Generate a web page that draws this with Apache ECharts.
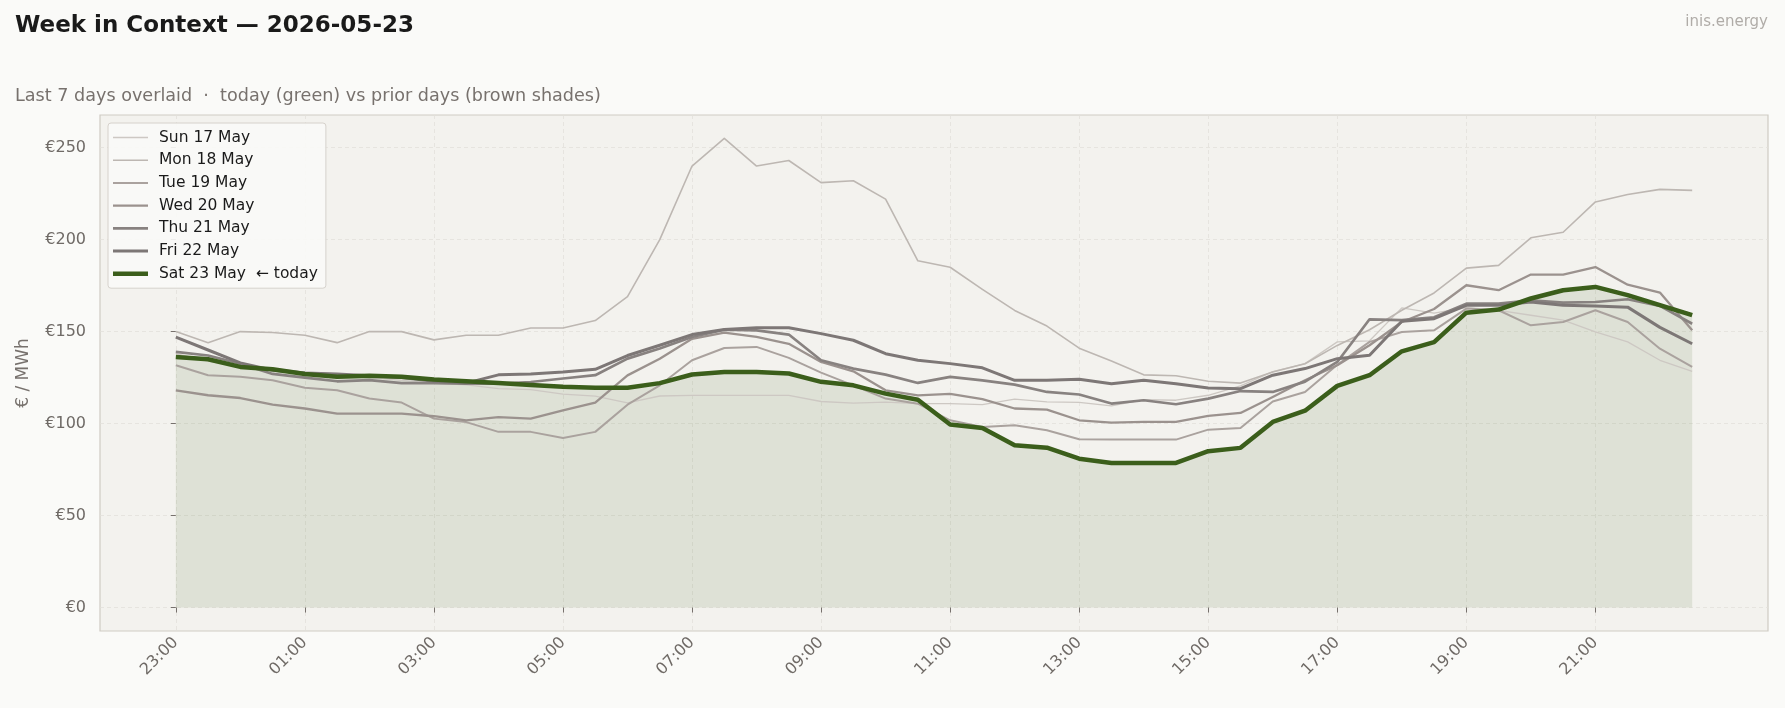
<!DOCTYPE html>
<html>
<head>
<meta charset="UTF-8">
<title>Week in Context</title>
<script src="https://cdn.jsdelivr.net/npm/echarts@6/dist/echarts.min.js"></script>
</head>
<body style="margin:0;background:#fafaf8">
<div id="chart" style="width:1785px;height:708px"></div>
<script>
// half-hour slots, delivery day starts 23:00
const slots = ['23:00','23:30','00:00','00:30','01:00','01:30','02:00','02:30','03:00','03:30',
  '04:00','04:30','05:00','05:30','06:00','06:30','07:00','07:30','08:00','08:30',
  '09:00','09:30','10:00','10:30','11:00','11:30','12:00','12:30','13:00','13:30',
  '14:00','14:30','15:00','15:30','16:00','16:30','17:00','17:30','18:00','18:30',
  '19:00','19:30','20:00','20:30','21:00','21:30','22:00','22:30'];
const tickSlots = [0, 4, 8, 12, 16, 20, 24, 28, 32, 36, 40, 44];
const yTicks = [0, 50, 100, 150, 200, 250];

const sun17 = [138,134,131,130,128,127,125,123.5,122,121,119,118.5,116,114.9,111.3,115,
  115.3,115.3,115.3,115.3,112,111.1,111.7,110.8,110.8,110.3,113.3,111.8,111.5,109.6,113,112.7,
  115.4,120.5,128.2,132.6,144.4,145,162.9,160,163,161.6,158.9,156.2,149.8,144.4,134.4,128.4];
const mon18 = [150,144,150,149.5,148,144,150,150,145.5,148,148,152,152,156,169,200,
  240,255,240,243,231,232,222,188.5,185,173,161.5,153,141,134,126.5,126,
  123,122,128,132.5,142.5,151,161.6,171,184.5,186,201,204,220.5,224.5,227.3,226.8];
const tue19 = [131.7,126.3,125.4,123.6,119.5,118.1,113.6,111.4,102.7,100.8,95.5,95.5,92.2,95.5,110.3,120.8,
  134.4,141.1,141.7,135.7,127.7,120.8,113.6,110.8,101.8,98.2,99.1,96.4,91.5,91.3,91.3,91.3,
  96.7,97.6,112,117.2,132,144.4,149.8,150.7,162.5,161.6,153.4,155.2,161.6,155.2,140.7,130.8];
const wed20 = [118.1,115.4,113.9,110.3,108.2,105.4,105.4,105.4,104,101.8,103.5,102.7,107.2,111.4,126.2,135.2,
  146.1,149.4,147.1,143.4,133.5,128.4,118.1,115.3,116.1,113.3,108.2,107.6,101.8,100.5,100.9,100.9,
  104.2,105.8,114.5,123.6,131.7,142.6,155.2,162.3,175.2,172.5,181,181,185.1,175.5,171.2,150.7];
const thu21 = [139,137,132.5,127,125,123,123.6,122,122,121.7,121.7,122.6,124.5,126.3,135.3,140.8,
  147.1,151,150.7,148.4,134.4,129.9,126.6,122.1,125.4,123.5,121.2,117.2,115.8,110.9,112.7,110.5,
  113.6,117.7,117.2,122.8,133.5,156.7,156.2,157.8,165.2,165.2,167,165.8,166.1,167.6,164,154.3];
const fri22 = [147,140,133,129,127.5,127,126,125,123,122,126.5,127,128,129.5,137,142.6,
  148.4,151.2,152.1,152.1,148.9,145.3,138,134.4,132.6,130.3,123.5,123.5,124.1,121.7,123.5,121.7,
  119.3,119,126.3,129.9,135.3,137.1,155.6,157,164.3,164.3,166.1,164.3,163.9,163.3,152.3,143.4];
const sat23 = [136.2,135,130.8,129.5,127,125.5,126,125.5,124,123,122,121,120,119.5,119.5,122,
  126.7,128,128,127.2,122.7,120.8,116.3,113,99.5,97.6,88.2,86.9,80.9,78.6,78.6,78.6,
  85,86.8,100.9,107,120.5,126.3,139.3,144.3,160.3,162,168,172.5,174.3,169.8,164.4,159];

const days = ['Sun 17 May','Mon 18 May','Tue 19 May','Wed 20 May','Thu 21 May','Fri 22 May','Sat 23 May  ← today'];
const prices = [sun17, mon18, tue19, wed20, thu21, fri22, sat23];
const colors = ['#cdc8c3','#bdb7b2','#aaa29e','#9b928e','#888280','#7d7776','#3b5e1b'];
const widths = [1.3, 1.6, 2, 2.3, 2.7, 3, 4.5];

const font = 'DejaVu Sans';
const iconW = 35, iconH = 16;

// legend handle: a bar of the series' width, centred in the icon box
function handle(w) {
  const y0 = (iconH - w) / 2, y1 = y0 + w;
  return 'path://M0,0L0,0M' + iconW + ',' + iconH + 'L' + iconW + ',' + iconH +
    'M0,' + y0 + 'L' + iconW + ',' + y0 + 'L' + iconW + ',' + y1 + 'L0,' + y1 + 'Z';
}

const chart = echarts.init(document.getElementById('chart'));

const series = [{
  name: 'fill',
  type: 'line',
  data: sat23.map((v, i) => [i, v]),
  symbol: 'none',
  silent: true,
  lineStyle: {width: 0},
  areaStyle: {color: 'rgba(61,95,27,0.16)'}
}];
days.forEach((d, k) => {
  series.push({
    name: d,
    type: 'line',
    data: prices[k].map((v, i) => [i, v]),
    symbol: 'none',
    silent: true,
    lineStyle: {color: colors[k], width: widths[k], join: 'round'},
    itemStyle: {color: colors[k]}
  });
});

chart.setOption({
  backgroundColor: '#fafaf8',
  animation: false,
  title: [
    {text: 'Week in Context — 2026-05-23', left: 15, top: 15, padding: 0,
      textStyle: {fontFamily: font, fontSize: 23, fontWeight: 'bold', color: '#1a1a1a'}},
    {text: 'Last 7 days overlaid  ·  today (green) vs prior days (brown shades)', left: 15, top: 87, padding: 0,
      textStyle: {fontFamily: font, fontSize: 17.6, fontWeight: 'normal', color: '#77716d'}},
    {text: 'inis.energy', right: 17, top: 15, padding: 0,
      textStyle: {fontFamily: font, fontSize: 15, fontWeight: 'normal', color: '#b0aca8'}}
  ],
  legend: {
    data: days.map((d, k) => ({name: d, icon: handle(widths[k])})),
    orient: 'vertical',
    left: 108,
    top: 123,
    padding: [6.5, 8, 6.5, 5],
    itemWidth: iconW,
    itemHeight: iconH,
    itemGap: 6.7,
    itemStyle: {borderWidth: 0},
    backgroundColor: 'rgba(249,249,247,0.9)',
    borderColor: '#d6d2cc',
    borderWidth: 1,
    borderRadius: 3,
    selectedMode: false,
    textStyle: {fontFamily: font, fontSize: 15.5, color: '#1a1a1a', padding: [0, 0, 0, 6]}
  },
  grid: {
    left: 100, right: 17, top: 115, bottom: 77,
    show: true,
    backgroundColor: '#f3f2ee',
    borderColor: '#cfcbc4',
    borderWidth: 1.2
  },
  xAxis: {
    type: 'value',
    min: -2.35,
    max: 49.35,
    axisLine: {show: false},
    axisTick: {show: true, length: 5, customValues: tickSlots, lineStyle: {color: '#77716d'}},
    axisLabel: {
      customValues: tickSlots,
      formatter: v => slots[v],
      rotate: 45,
      margin: 9,
      fontFamily: font,
      fontSize: 16,
      color: '#6f6a66'
    },
    splitLine: {show: true, lineStyle: {color: '#e2e0da', type: [4, 3], width: 0.8}}
  },
  yAxis: {
    type: 'value',
    min: -12.75,
    max: 267.75,
    name: '€ / MWh',
    nameLocation: 'middle',
    nameGap: 68,
    nameTextStyle: {fontFamily: font, fontSize: 17, color: '#77716d'},
    axisLine: {show: false},
    axisTick: {show: true, length: 5, customValues: yTicks, lineStyle: {color: '#77716d'}},
    axisLabel: {
      customValues: yTicks,
      formatter: v => '€' + v,
      margin: 14,
      fontFamily: font,
      fontSize: 16,
      color: '#6f6a66'
    },
    splitLine: {show: true, lineStyle: {color: '#e2e0da', type: [4, 3], width: 0.8}}
  },
  series: series
});
</script>
</body>
</html>
